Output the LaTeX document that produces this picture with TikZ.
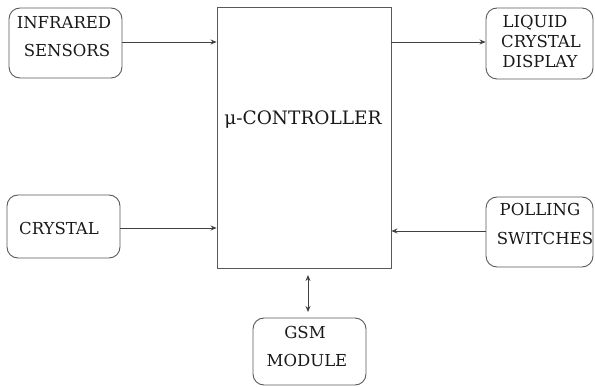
\documentclass[tikz,border=0pt]{standalone}
\usepackage{fontspec}
\newfontfamily\labelface{DejaVu Serif}
\usetikzlibrary{arrows.meta}
\begin{document}
\begin{tikzpicture}[x=1pt,y=-1pt,
  box/.style={draw=black!65,line width=0.9pt,rounded corners=11pt,inner sep=0pt},
  core/.style={draw=black!65,line width=0.9pt,inner sep=0pt},
  lbl/.style={anchor=base,inner sep=0pt,font=\labelface\fontsize{16.5}{20}\selectfont,text=black!90},
  link/.style={draw=black!75,line width=0.8pt,-{Stealth[length=6pt,width=5pt]}}]
\useasboundingbox (0,0) rectangle (595,387);

% central controller
\node[core,minimum width=174pt,minimum height=261pt] (mc) at (304,137.5) {};
\node[lbl,font=\labelface\fontsize{18.5}{22}\selectfont] (mct) at (303,125) {μ-CONTROLLER};

% peripheral blocks
\node[box,minimum width=113pt,minimum height=70pt] (ir) at (65.5,43) {};
\node[lbl] (ir1) at (64,29) {INFRARED};
\node[lbl] (ir2) at (67,57) {SENSORS};

\node[box,minimum width=113pt,minimum height=63pt] (xt) at (63.5,226.5) {};
\node[lbl] (xt1) at (59,235) {CRYSTAL};

\node[box,minimum width=107pt,minimum height=71pt] (lcd) at (539.5,43.5) {};
\node[lbl] (lcd1) at (535,28) {LIQUID};
\node[lbl] (lcd2) at (541,48) {CRYSTAL};
\node[lbl] (lcd3) at (540,68) {DISPLAY};

\node[box,minimum width=107pt,minimum height=70pt] (pol) at (539.5,232) {};
\node[lbl] (pol1) at (540,216) {POLLING};
\node[lbl] (pol2) at (545,245) {SWITCHES};

\node[box,minimum width=113pt,minimum height=67pt] (gsm) at (309.5,351.5) {};
\node[lbl] (gsm1) at (305,339) {GSM};
\node[lbl] (gsm2) at (307,367) {MODULE};

% connections
\draw[link] (ir.east |- 0,42) -- (mc.west |- 0,42);
\draw[link] (xt.east |- 0,228) -- (mc.west |- 0,228);
\draw[link] (mc.east |- 0,42) -- (lcd.west |- 0,42);
\draw[link] (pol.west |- 0,231) -- (mc.east |- 0,231);
\coordinate (gtop) at (308,312);
\coordinate (mbot) at (308,275);
\draw[link,{Stealth[length=6pt,width=5pt]}-{Stealth[length=6pt,width=5pt]}] (mbot) -- (gtop);
\end{tikzpicture}
\end{document}
